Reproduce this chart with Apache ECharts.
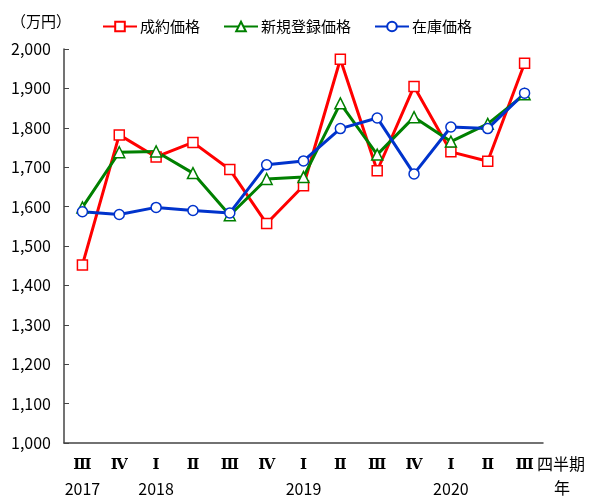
<!DOCTYPE html>
<html><head><meta charset="utf-8">
<script src="https://cdn.jsdelivr.net/npm/echarts@6/dist/echarts.min.js"></script>
<style>html,body{margin:0;padding:0;background:#fff}#c{width:590px;height:497px}</style>
</head><body><div id="c"></div>
<script>
const quarters = ['Ⅲ','Ⅳ','Ⅰ','Ⅱ','Ⅲ','Ⅳ','Ⅰ','Ⅱ','Ⅲ','Ⅳ','Ⅰ','Ⅱ','Ⅲ'];
const years = ['2017','','2018','','','','2019','','','','2020','',''];
const contractPrice = [1452,1782,1726,1763,1694,1557,1653,1974,1691,1905,1739,1715,1964];
const newListingPrice = [1598,1738,1740,1685,1578,1670,1675,1862,1732,1827,1765,1810,1885];
const inventoryPrice = [1587,1580,1598,1590,1584,1706,1716,1798,1825,1683,1802,1798,1888];
const yTicks = [1000,1100,1200,1300,1400,1500,1600,1700,1800,1900,2000];

const chart = echarts.init(document.getElementById('c'));
const jp = '"Noto Sans CJK JP", sans-serif';
function mk(name, data, color, symbol, size) {
  return {
    name, type: 'line', data, symbol, symbolSize: size,
    lineStyle: {color, width: 3},
    itemStyle: {color: '#fff', borderColor: color, borderWidth: 1.5},
    emphasis: {disabled: true}
  };
}
chart.setOption({
  animation: false,
  grid: {left: 64, right: 47, top: 49, bottom: 54, containLabel: false, outerBoundsMode: 'none'},
  legend: {
    left: 102, top: 19, padding: 0, itemGap: 23, itemWidth: 34, itemHeight: 12,
    textStyle: {fontFamily: jp, fontSize: 15, color: '#000', padding: [0, 0, 0, -2]},
    data: ['成約価格','新規登録価格','在庫価格']
  },
  xAxis: {
    type: 'category', data: quarters, boundaryGap: true,
    axisLine: {lineStyle: {color: '#444', width: 1.5}},
    axisTick: {inside: true, length: 5, lineStyle: {color: '#444'}},
    axisLabel: {
      margin: 10, interval: 0,
      formatter: (v, i) => '{q|' + v + '}\n{y|' + (years[i] || ' ') + '}',
      rich: {
        q: {fontFamily: '"DejaVu Serif", serif', fontSize: 15, fontWeight: 'bold', color: '#000', height: 24, lineHeight: 24},
        y: {fontFamily: jp, fontSize: 16, color: '#000', height: 24, lineHeight: 24}
      }
    }
  },
  yAxis: {
    type: 'value', min: 1000, max: 2000, interval: 100,
    splitLine: {show: false},
    axisLine: {show: true, lineStyle: {color: '#444', width: 1.5}},
    axisTick: {show: true, inside: true, length: 5, lineStyle: {color: '#444'}},
    axisLabel: {
      margin: 13, color: '#000', fontSize: 16, fontFamily: jp,
      formatter: v => yTicks.includes(v) ? v.toLocaleString('en-US') : ''
    }
  },
  graphic: [
    {type: 'text', left: 11, top: 14, style: {text: '（万円）', font: '15px ' + jp, fill: '#000'}},
    {type: 'text', left: 537, top: 456, style: {text: '四半期', font: '16px ' + jp, fill: '#000'}},
    {type: 'text', left: 554, top: 480, style: {text: '年', font: '16px ' + jp, fill: '#000'}}
  ],
  series: [
    mk('成約価格', contractPrice, '#ff0000', 'rect', 10),
    mk('新規登録価格', newListingPrice, '#008000', 'triangle', 11),
    mk('在庫価格', inventoryPrice, '#0033cc', 'circle', 10)
  ]
});
</script></body></html>
